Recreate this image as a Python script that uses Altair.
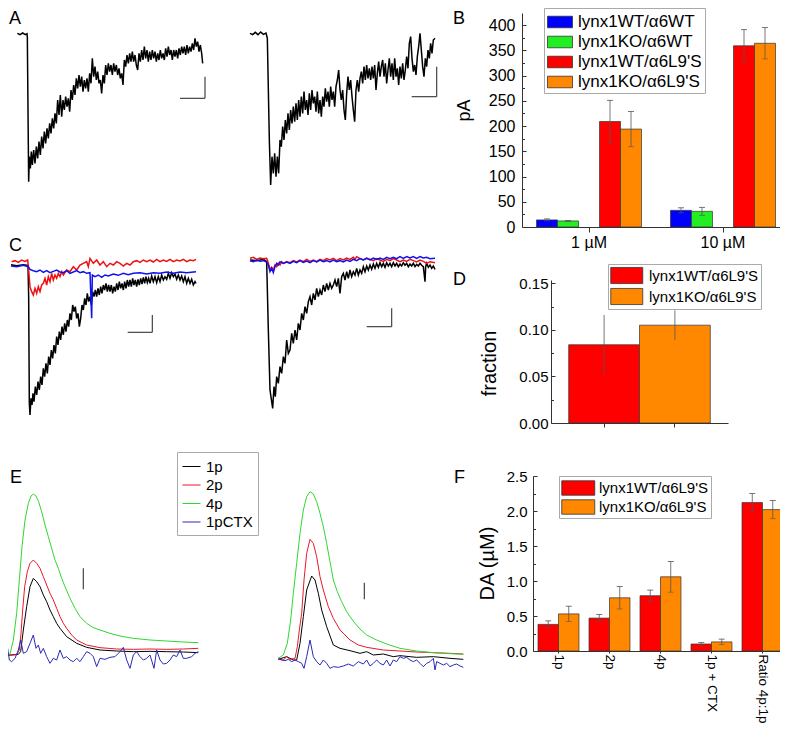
import altair as alt
import pandas as pd

FONT = "Liberation Sans"
W, H = 772, 716
M = 8  # page margin

# ---------------- Panel A : whole-cell currents (time ms, current pA) ----------------
A_left = [(520,-100),(600,-104),(680,-99),(760,-104),(810,-101),(820,-112),(860,-545),(880,-470),(910,-505),(940,-455),(970,-495),(1010,-450),(1050,-490),(1090,-440),(1130,-475),(1170,-425),(1210,-465),(1250,-410),(1290,-445),(1330,-395),(1370,-430),(1410,-385),(1450,-415),(1490,-370),(1530,-400),(1570,-355),(1610,-385),(1650,-340),(1690,-370),(1730,-300),(1770,-345),(1810,-285),(1850,-350),(1890,-300),(1930,-330),(1970,-290),(2010,-320),(2050,-295),(2090,-335),(2130,-270),(2170,-300),(2210,-255),(2250,-285),(2290,-235),(2330,-265),(2370,-225),(2410,-260),(2450,-230),(2490,-275),(2530,-240),(2570,-265),(2610,-235),(2650,-275),(2690,-220),(2730,-250),(2770,-175),(2810,-230),(2850,-200),(2890,-240),(2930,-215),(2970,-250),(3010,-240),(3050,-280),(3090,-225),(3130,-250),(3170,-195),(3210,-225),(3250,-190),(3290,-215),(3330,-195),(3370,-225),(3410,-190),(3450,-215),(3490,-195),(3530,-225),(3570,-205),(3610,-235),(3650,-220),(3690,-255),(3730,-180),(3770,-200),(3810,-165),(3850,-190),(3890,-160),(3930,-185),(3970,-155),(4010,-185),(4050,-165),(4090,-195),(4130,-210),(4170,-160),(4210,-185),(4250,-150),(4290,-180),(4330,-140),(4370,-175),(4410,-150),(4450,-185),(4490,-155),(4530,-180),(4570,-150),(4610,-175),(4650,-155),(4690,-185),(4730,-160),(4770,-180),(4810,-150),(4850,-175),(4890,-160),(4930,-180),(4970,-145),(5010,-170),(5050,-140),(5090,-165),(5130,-150),(5170,-180),(5210,-150),(5250,-170),(5290,-150),(5330,-175),(5370,-145),(5410,-165),(5450,-140),(5490,-160),(5530,-140),(5570,-165),(5610,-135),(5650,-160),(5690,-140),(5730,-155),(5770,-130),(5810,-150),(5850,-115),(5890,-140),(5930,-125),(5970,-155),(6010,-135),(6050,-160),(6080,-190)]
A_right = [(600,-100),(680,-104),(760,-97),(840,-104),(920,-96),(1000,-103),(1080,-99),(1120,-115),(1180,-420),(1220,-555),(1260,-470),(1300,-520),(1340,-460),(1380,-530),(1420,-470),(1460,-520),(1500,-420),(1540,-440),(1580,-380),(1620,-420),(1660,-360),(1700,-400),(1740,-340),(1780,-390),(1820,-330),(1860,-370),(1900,-320),(1940,-365),(1980,-310),(2020,-360),(2060,-300),(2100,-350),(2140,-290),(2180,-340),(2220,-275),(2260,-330),(2300,-300),(2340,-345),(2380,-280),(2420,-330),(2460,-270),(2500,-310),(2540,-290),(2580,-335),(2620,-275),(2660,-340),(2700,-300),(2740,-350),(2780,-290),(2820,-320),(2860,-265),(2900,-305),(2940,-275),(2980,-320),(3020,-260),(3060,-300),(3100,-275),(3140,-320),(3180,-260),(3220,-240),(3260,-210),(3300,-270),(3340,-300),(3380,-270),(3420,-330),(3460,-360),(3500,-280),(3540,-230),(3580,-270),(3620,-240),(3660,-290),(3700,-330),(3740,-365),(3780,-270),(3820,-240),(3860,-275),(3900,-235),(3940,-215),(3980,-250),(4020,-200),(4060,-240),(4100,-195),(4140,-235),(4180,-205),(4220,-240),(4260,-200),(4300,-235),(4340,-195),(4380,-270),(4420,-220),(4460,-185),(4500,-230),(4540,-200),(4580,-180),(4620,-230),(4660,-190),(4700,-250),(4740,-210),(4780,-175),(4820,-230),(4860,-190),(4900,-240),(4940,-175),(4980,-230),(5020,-205),(5060,-255),(5100,-200),(5140,-235),(5180,-190),(5220,-240),(5260,-210),(5300,-170),(5340,-205),(5380,-130),(5420,-110),(5460,-175),(5500,-215),(5540,-195),(5580,-225),(5620,-170),(5660,-140),(5700,-100),(5740,-150),(5780,-200),(5820,-230),(5860,-175),(5900,-200),(5940,-150),(5980,-175),(6020,-130),(6060,-160),(6100,-120),(6150,-115)]
A_left_bar_t, A_left_bar_v = [5400, 6150], [-295, -230]
A_right_bar_t, A_right_bar_v = [5450, 6200], [-290, -200]

# ---------------- Panel C ----------------
C_left_black = [(330,-104),(500,-107),(700,-104),(840,-106),(860,-200),(880,-520),(900,-555),(930,-505),(960,-525),(990,-490),(1020,-515),(1060,-470),(1100,-495),(1140,-455),(1180,-480),(1220,-440),(1260,-465),(1300,-415),(1340,-440),(1380,-400),(1420,-430),(1460,-380),(1500,-405),(1540,-360),(1580,-385),(1620,-345),(1660,-370),(1700,-320),(1740,-345),(1780,-305),(1820,-330),(1860,-290),(1900,-315),(1940,-280),(1980,-305),(2020,-270),(2060,-290),(2100,-250),(2140,-270),(2180,-225),(2220,-245),(2260,-230),(2300,-265),(2340,-250),(2380,-290),(2420,-265),(2460,-225),(2500,-240),(2540,-205),(2580,-225),(2620,-190),(2660,-215),(2700,-200),(2740,-225),(2780,-185),(2820,-200),(2860,-180),(2900,-200),(2940,-175),(2980,-195),(3020,-170),(3060,-190),(3100,-165),(3140,-180),(3180,-160),(3220,-185),(3260,-165),(3300,-185),(3340,-165),(3380,-190),(3420,-170),(3460,-185),(3500,-160),(3540,-180),(3580,-155),(3620,-175),(3660,-160),(3700,-180),(3740,-155),(3780,-175),(3820,-150),(3860,-170),(3900,-150),(3940,-170),(3980,-145),(4020,-165),(4060,-150),(4100,-170),(4140,-148),(4180,-165),(4220,-145),(4260,-162),(4300,-142),(4340,-160),(4380,-140),(4420,-158),(4460,-145),(4500,-160),(4550,-138),(4600,-155),(4650,-140),(4700,-158),(4750,-140),(4800,-155),(4850,-135),(4900,-150),(4950,-140),(5000,-148),(5050,-130),(5100,-145),(5150,-128),(5200,-140),(5250,-132),(5300,-148),(5350,-135),(5400,-150),(5450,-138),(5500,-155),(5550,-140),(5600,-160),(5650,-145),(5700,-160),(5750,-148),(5800,-165),(5850,-155),(5880,-160)]
C_left_red = [(350,-95),(450,-92),(550,-97),(650,-90),(750,-94),(830,-90),(860,-120),(900,-170),(950,-185),(1000,-195),(1050,-175),(1100,-190),(1150,-170),(1200,-185),(1250,-165),(1300,-160),(1350,-145),(1400,-165),(1450,-140),(1500,-155),(1550,-130),(1600,-150),(1650,-135),(1700,-145),(1750,-130),(1800,-140),(1850,-125),(1900,-135),(2000,-120),(2100,-125),(2200,-110),(2300,-120),(2400,-105),(2500,-100),(2600,-95),(2650,-110),(2700,-85),(2800,-100),(2900,-90),(3000,-105),(3100,-95),(3200,-110),(3300,-100),(3400,-105),(3500,-95),(3600,-100),(3700,-108),(3800,-100),(3900,-105),(4000,-95),(4100,-92),(4200,-97),(4300,-90),(4400,-95),(4500,-90),(4600,-96),(4700,-88),(4800,-95),(4900,-90),(5000,-94),(5100,-88),(5200,-95),(5300,-90),(5400,-93),(5500,-88),(5600,-95),(5700,-90),(5800,-92),(5880,-88)]
C_left_blue = [(330,-108),(500,-110),(700,-106),(850,-110),(900,-118),(1000,-122),(1100,-125),(1200,-120),(1300,-127),(1400,-122),(1500,-128),(1600,-124),(1700,-120),(1800,-126),(1900,-128),(2000,-122),(2100,-130),(2200,-126),(2300,-122),(2400,-128),(2500,-125),(2600,-130),(2700,-128),(2750,-265),(2770,-135),(2850,-140),(2950,-135),(3050,-142),(3150,-135),(3250,-138),(3400,-132),(3550,-136),(3700,-130),(3850,-134),(4000,-130),(4200,-128),(4400,-132),(4600,-128),(4800,-130),(5000,-126),(5200,-130),(5400,-126),(5600,-128),(5880,-125)]
C_right_black = [(7500,-90),(7700,-92),(7900,-88),(8000,-95),(8050,-300),(8100,-480),(8180,-535),(8220,-470),(8260,-500),(8300,-440),(8350,-460),(8400,-410),(8450,-430),(8500,-380),(8550,-400),(8600,-330),(8650,-370),(8700,-360),(8750,-310),(8800,-340),(8850,-300),(8900,-330),(8950,-280),(9000,-300),(9050,-250),(9100,-270),(9150,-230),(9200,-250),(9250,-215),(9300,-200),(9350,-225),(9400,-190),(9450,-210),(9500,-175),(9550,-200),(9600,-180),(9650,-195),(9700,-165),(9750,-185),(9800,-160),(9850,-180),(9900,-160),(9950,-175),(10000,-165),(10050,-150),(10100,-170),(10150,-145),(10200,-190),(10250,-140),(10300,-130),(10350,-150),(10400,-125),(10450,-145),(10500,-120),(10550,-140),(10600,-125),(10650,-135),(10700,-115),(10750,-135),(10800,-120),(10850,-130),(10900,-110),(10950,-125),(11000,-108),(11050,-120),(11100,-105),(11150,-118),(11200,-102),(11250,-115),(11300,-100),(11350,-112),(11400,-98),(11450,-110),(11500,-100),(11550,-112),(11600,-98),(11650,-108),(11700,-100),(11750,-110),(11800,-98),(11850,-108),(11900,-100),(11950,-110),(12000,-102),(12050,-108),(12100,-98),(12150,-106),(12200,-100),(12250,-110),(12300,-102),(12350,-108),(12400,-100),(12450,-110),(12500,-103),(12550,-108),(12600,-100),(12650,-106),(12700,-110),(12750,-155),(12770,-110),(12800,-100),(12850,-112),(12900,-105),(12950,-115),(13000,-108),(13050,-118)]
C_right_red = [(7500,-85),(7600,-82),(7700,-88),(7800,-84),(7900,-86),(8000,-85),(8050,-100),(8100,-118),(8150,-112),(8200,-120),(8250,-105),(8300,-110),(8350,-100),(8400,-105),(8450,-95),(8500,-100),(8600,-95),(8700,-98),(8800,-92),(8900,-96),(9000,-90),(9100,-95),(9200,-88),(9300,-94),(9400,-90),(9500,-95),(9600,-88),(9700,-92),(9800,-86),(9900,-90),(10000,-85),(10100,-92),(10200,-86),(10300,-90),(10400,-84),(10500,-88),(10600,-82),(10650,-88),(10700,-80),(10800,-86),(10900,-90),(11000,-84),(11100,-88),(11200,-92),(11300,-86),(11400,-90),(11500,-94),(11600,-88),(11700,-92),(11800,-86),(11900,-90),(12000,-95),(12100,-90),(12200,-94),(12300,-88),(12400,-92),(12500,-96),(12600,-90),(12700,-94),(12800,-100),(12900,-95),(13050,-98)]
C_right_blue = [(7500,-92),(7600,-95),(7700,-90),(7800,-94),(7900,-92),(8000,-96),(8050,-105),(8100,-125),(8150,-115),(8200,-128),(8250,-110),(8300,-100),(8350,-105),(8400,-95),(8500,-100),(8600,-96),(8700,-100),(8800,-94),(8900,-98),(9000,-92),(9100,-97),(9200,-93),(9300,-98),(9400,-92),(9500,-96),(9600,-90),(9700,-95),(9800,-92),(9900,-96),(10000,-90),(10100,-95),(10200,-92),(10300,-96),(10400,-90),(10500,-94),(10600,-88),(10700,-92),(10800,-86),(10900,-90),(11000,-85),(11100,-90),(11200,-84),(11300,-88),(11400,-84),(11500,-88),(11600,-82),(11700,-86),(11800,-82),(11900,-86),(12000,-80),(12100,-85),(12200,-80),(12300,-84),(12400,-80),(12500,-85),(12600,-80),(12700,-84),(12800,-82),(12900,-86),(13050,-85)]
C_left_bar_t, C_left_bar_v = [3830, 4570], [-307, -255]
C_right_bar_t, C_right_bar_v = [11000, 11750], [-290, -235]

# ---------------- Panel E : dopamine signals (time ms, DA a.u.) ----------------
E_series = ["1p", "2p", "4p", "1pCTX"]
E_colors = ["#000000", "#e8182c", "#2fd82f", "#2a2ab8"]
E_left = {
    "1p": [(50,75),(300,75),(550,77),(620,85),(700,150),(800,220),(900,280),(1000,305),(1100,295),(1200,280),(1300,255),(1400,235),(1500,210),(1600,190),(1700,170),(1800,155),(2000,130),(2300,110),(2600,98),(3000,90),(3500,87),(4000,85),(4500,86),(5000,85),(5500,84),(5950,82)],
    "2p": [(50,73),(300,74),(500,76),(580,90),(630,140),(680,210),(740,280),(820,325),(900,350),(1000,360),(1100,350),(1200,335),(1300,310),(1400,285),(1500,260),(1600,240),(1700,215),(1800,190),(1900,170),(2000,155),(2150,135),(2300,120),(2600,105),(3000,97),(3500,93),(4000,92),(4500,93),(5000,92),(5500,93),(5950,95)],
    "4p": [(50,75),(200,74),(300,78),(400,120),(500,200),(580,300),(660,400),(750,480),(850,530),(930,552),(1000,558),(1080,552),(1160,535),(1250,505),(1350,465),(1450,430),(1550,395),(1650,360),(1750,335),(1850,305),(1950,280),(2100,245),(2250,215),(2400,190),(2600,170),(2800,157),(3000,150),(3300,140),(3600,132),(4000,125),(4500,120),(5000,117),(5500,114),(5950,112)],
    "1pCTX": [(50,70),(120,60),(200,115),(280,60),(350,55),(450,65),(550,90),(620,120),(700,80),(800,85),(900,110),(1000,135),(1080,95),(1150,105),(1220,80),(1300,95),(1400,70),(1500,50),(1600,65),(1700,60),(1800,90),(1900,65),(2000,70),(2100,60),(2200,55),(2300,65),(2400,55),(2500,70),(2600,85),(2700,80),(2800,70),(2900,40),(3000,65),(3150,62),(3300,68),(3450,70),(3600,85),(3700,98),(3800,60),(3900,35),(4000,75),(4100,85),(4200,70),(4300,60),(4400,65),(4500,75),(4620,35),(4700,90),(4800,60),(4900,48),(5000,50),(5100,60),(5200,75),(5300,70),(5400,90),(5500,65),(5600,65),(5750,70),(5850,80),(5950,85)],
}
E_right = {
    "1p": [(8350,62),(8600,70),(8800,60),(8900,60),(9000,110),(9100,190),(9200,270),(9350,312),(9450,300),(9550,260),(9650,210),(9800,160),(10000,105),(10200,95),(10500,88),(10800,80),(11000,85),(11200,75),(11500,78),(11800,70),(12000,73),(12500,68),(13000,70),(13500,65),(13900,62)],
    "2p": [(8350,62),(8500,60),(8600,70),(8700,62),(8850,65),(8920,100),(8980,150),(9050,200),(9120,300),(9200,380),(9300,422),(9400,410),(9500,370),(9600,310),(9700,270),(9850,220),(10000,185),(10200,150),(10500,120),(10750,105),(11000,98),(11500,90),(12000,87),(12500,84),(13000,82),(13500,80),(13900,78)],
    "4p": [(8350,65),(8500,75),(8620,110),(8720,180),(8800,260),(8900,350),(9000,440),(9100,510),(9200,550),(9300,565),(9400,558),(9500,535),(9600,500),(9700,460),(9800,410),(9900,355),(10000,300),(10120,265),(10250,235),(10400,205),(10500,190),(10650,170),(10800,153),(11000,135),(11300,120),(11600,108),(12000,95),(12500,87),(13000,82),(13500,79),(13900,77)],
    "1pCTX": [(8350,65),(8450,60),(8550,58),(8650,62),(8750,55),(8850,60),(8950,55),(9050,50),(9120,35),(9200,70),(9300,120),(9400,70),(9500,55),(9600,45),(9700,60),(9800,50),(9900,35),(10000,40),(10150,38),(10300,42),(10450,48),(10600,42),(10750,55),(10900,48),(11000,60),(11100,42),(11200,50),(11300,60),(11400,50),(11500,45),(11600,60),(11700,42),(11800,60),(11900,55),(12000,70),(12100,65),(12200,68),(12300,60),(12400,55),(12500,60),(12600,50),(12700,40),(12800,50),(12900,55),(13000,65),(13050,30),(13100,55),(13200,50),(13300,45),(13400,50),(13500,40),(13600,45),(13700,48),(13800,42),(13900,38)],
}
E_left_bar_t, E_left_bar_v = 2500, [272, 335]
E_right_bar_t, E_right_bar_v = 10930, [242, 292]

# ---------------- Panel B ----------------
B_conc = ["1 µM", "10 µM"]
B_groups = ["lynx1WT/α6WT", "lynx1KO/α6WT", "lynx1WT/α6L9'S", "lynx1KO/α6L9'S"]
B_slots = ["lynx1WT/α6WT", "lynx1KO/α6WT", "gap", "lynx1WT/α6L9'S", "lynx1KO/α6L9'S"]
B_colors = ["#0000ff", "#22ee22", "#ff0000", "#ff8800"]
B_mean = {"lynx1WT/α6WT": [14, 33], "lynx1KO/α6WT": [12, 31],
          "lynx1WT/α6L9'S": [209, 359], "lynx1KO/α6L9'S": [194, 364]}
B_err = {"lynx1WT/α6WT": [2, 5], "lynx1KO/α6WT": [1, 8],
         "lynx1WT/α6L9'S": [42, 32], "lynx1KO/α6L9'S": [35, 31]}
B_ticks = [0, 50, 100, 150, 200, 250, 300, 350, 400]
B_minor = [25, 75, 125, 175, 225, 275, 325, 375]

# ---------------- Panel D ----------------
D_groups = ["lynx1WT/α6L9'S", "lynx1KO/α6L9'S"]
D_colors = ["#ff0000", "#ff8800"]
D_mean = [0.084, 0.105]
D_err = [0.032, 0.016]
D_ticks = [0.0, 0.05, 0.10, 0.15]
D_minor = [0.025, 0.075, 0.125]

# ---------------- Panel F ----------------
F_cats = ["1p", "2p", "4p", "1p + CTX", "Ratio 4p:1p"]
F_groups = ["lynx1WT/α6L9'S", "lynx1KO/α6L9'S"]
F_colors = ["#ff0000", "#ff8800"]
F_wt = [0.38, 0.47, 0.79, 0.10, 2.12]
F_wt_err = [0.05, 0.05, 0.08, 0.02, 0.13]
F_ko = [0.53, 0.76, 1.06, 0.13, 2.02]
F_ko_err = [0.11, 0.16, 0.22, 0.04, 0.13]
F_ticks = [0.0, 0.5, 1.0, 1.5, 2.0, 2.5]
F_minor = [0.25, 0.75, 1.25, 1.75, 2.25]


# ================= helpers (layout only) =================
def frame_x(ox, dom):
    return alt.Scale(domain=dom, range=[ox + dom[0] / 30 - M, ox + dom[1] / 30 - M], nice=False, zero=False)


def frame_y(oy, dom, c=0):
    return alt.Scale(domain=dom, range=[oy + (c - dom[0]) / 3 - M, oy + (c - dom[1]) / 3 - M], nice=False, zero=False)


def pairs_df(pairs, rec, series=""):
    df = pd.DataFrame(pairs, columns=["t", "v"])
    df["rec"] = rec
    df["series"] = series
    return df


def lines(df, xs, ys, color, width=1.0):
    return alt.Chart(df).mark_line(color=color, strokeWidth=width).encode(
        x=alt.X("t:Q", scale=xs, axis=None),
        y=alt.Y("v:Q", scale=ys, axis=None),
        detail="rec:N",
    )


def scalebar(df, xs, ys):
    return alt.Chart(df).mark_rule(color="#444444", strokeWidth=1.2).encode(
        x=alt.X("x:Q", scale=xs, axis=None), x2="x2:Q",
        y=alt.Y("y:Q", scale=ys, axis=None), y2="y2:Q",
    )


def lbar(ts, vs):
    return pd.DataFrame({"x": [ts[1], ts[0]], "x2": [ts[1], ts[1]],
                         "y": [vs[0], vs[0]], "y2": [vs[1], vs[0]]})


def letter(ch, x, y):
    return alt.Chart(pd.DataFrame({"label": [ch]})).mark_text(
        font=FONT, fontSize=18, align="left", baseline="top", color="black"
    ).encode(text="label:N", x=alt.value(x), y=alt.value(y))


layers = []

# ---- A ----
xa1, ya = frame_x(0, [500, 6200]), frame_y(0, [-570, -90])
xa2, ya2 = frame_x(230, [580, 6250]), frame_y(0, [-570, -90])
layers += [
    lines(pairs_df(A_left, "L"), xa1, ya, "black", 1.5),
    scalebar(lbar(A_left_bar_t, A_left_bar_v), xa1, ya),
    lines(pairs_df(A_right, "R"), xa2, ya2, "black", 1.5),
    scalebar(lbar(A_right_bar_t, A_right_bar_v), xa2, ya2),
]

# ---- C ----
xc, yc = frame_x(0, [300, 13100]), frame_y(230, [-570, -70])
layers += [
    lines(pd.concat([pairs_df(C_left_black, "L"), pairs_df(C_right_black, "R")]), xc, yc, "black", 1.5),
    lines(pd.concat([pairs_df(C_left_red, "L"), pairs_df(C_right_red, "R")]), xc, yc, "#ee1111", 1.5),
    lines(pd.concat([pairs_df(C_left_blue, "L"), pairs_df(C_right_blue, "R")]), xc, yc, "#1111ee", 1.5),
    scalebar(pd.concat([lbar(C_left_bar_t, C_left_bar_v), lbar(C_right_bar_t, C_right_bar_v)]), xc, yc),
]

# ---- E ----
xe, ye = frame_x(0, [0, 14000]), frame_y(480, [0, 600], c=600)
dfE = pd.concat([pairs_df(E_left[s], "L", s) for s in E_series] + [pairs_df(E_right[s], "R", s) for s in E_series])
layers.append(
    alt.Chart(dfE).mark_line(strokeWidth=1.0).encode(
        x=alt.X("t:Q", scale=xe, axis=None),
        y=alt.Y("v:Q", scale=ye, axis=None),
        detail="rec:N",
        color=alt.Color("series:N", scale=alt.Scale(domain=E_series, range=E_colors),
                        legend=alt.Legend(orient="none", legendX=169, legendY=444, title=None,
                                          symbolType="stroke", symbolSize=324, symbolStrokeWidth=1,
                                          labelFontSize=15, labelOffset=5, rowPadding=0.5,
                                          padding=5, strokeColor="#aaaaaa", fillColor="white",
                                          cornerRadius=0)),
    )
)
dfEbar = pd.DataFrame({"x": [E_left_bar_t, E_right_bar_t], "x2": [E_left_bar_t, E_right_bar_t],
                       "y": [E_left_bar_v[0], E_right_bar_v[0]], "y2": [E_left_bar_v[1], E_right_bar_v[1]]})
layers.append(scalebar(dfEbar, xe, ye))


# ---- generic grouped-bar panel ----
def bar_panel(df, cat_field, cats, grp_field, slots, color_field, groups, colors, xs_range, po_x, po_off,
              y_dom, y_range, axis_x_px, y_ticks, y_minor, y_fmt, title, title_size, title_x, title_y,
              label_pad, label_size, x_labels, x_label_angle, x_label_size, x_tick, x_label_pad, cap, legend):
    xs = alt.Scale(domain=cats, range=xs_range, paddingInner=0, paddingOuter=po_x)
    xo = alt.Scale(domain=slots, paddingInner=0, paddingOuter=po_off)
    ys = alt.Scale(domain=y_dom, range=y_range, nice=False, zero=False)
    xaxis = alt.Axis(orient="bottom", offset=y_range[0] - H, title=None, labels=x_labels,
                     labelAngle=x_label_angle, labelFontSize=x_label_size, tickSize=x_tick,
                     labelPadding=x_label_pad)
    yaxis = alt.Axis(orient="left", offset=-axis_x_px, values=y_ticks, ticks=False, format=y_fmt,
                     labelPadding=label_pad, labelFontSize=label_size, title=title,
                     titleFontSize=title_size, titleX=title_x, titleY=title_y)
    out = []
    out.append(alt.Chart(df).mark_bar(stroke="#333333", strokeWidth=0.7).encode(
        x=alt.X(f"{cat_field}:N", scale=xs, axis=xaxis),
        xOffset=alt.XOffset(f"{grp_field}:N", scale=xo),
        y=alt.Y("mean:Q", scale=ys, axis=yaxis),
        color=alt.Color(f"{color_field}:N", scale=alt.Scale(domain=groups, range=colors), legend=legend),
    ))
    out.append(alt.Chart(df).mark_rule(color="#555555", strokeWidth=0.8).encode(
        x=alt.X(f"{cat_field}:N", scale=xs, axis=None),
        xOffset=alt.XOffset(f"{grp_field}:N", scale=xo),
        y=alt.Y("lo:Q", scale=ys, axis=alt.Axis(orient="right", offset=axis_x_px - W, values=y_ticks,
                                                 labels=False, domain=False, tickSize=4, title=None)),
        y2="hi:Q",
    ))
    out.append(alt.Chart(df).mark_tick(orient="horizontal", size=max(cap, 0.1), thickness=0.8,
                                       color="#555555", opacity=1 if cap > 0 else 0).encode(
        x=alt.X(f"{cat_field}:N", scale=xs, axis=None),
        xOffset=alt.XOffset(f"{grp_field}:N", scale=xo),
        y=alt.Y("hi:Q", scale=ys, axis=alt.Axis(orient="right", offset=axis_x_px - W, values=y_minor,
                                                 labels=False, domain=False, tickSize=2.5, title=None)),
    ))
    if cap > 0:
        out.append(alt.Chart(df).mark_tick(orient="horizontal", size=cap, thickness=0.8, color="#555555").encode(
            x=alt.X(f"{cat_field}:N", scale=xs, axis=None),
            xOffset=alt.XOffset(f"{grp_field}:N", scale=xo),
            y=alt.Y("lo:Q", scale=ys, axis=None),
        ))
    return out


def legend_box(x, y, path, size, font, label_offset, pad, row_pad):
    return alt.Legend(orient="none", legendX=x, legendY=y, title=None, symbolType=path, symbolSize=size,
                      symbolStrokeColor="#333333", symbolStrokeWidth=0.8, labelFontSize=font,
                      labelOffset=label_offset, padding=pad, rowPadding=row_pad,
                      strokeColor="#aaaaaa", fillColor="white", cornerRadius=0)


# ---- B ----
rowsB = []
for g in B_groups:
    for i, c in enumerate(B_conc):
        m, e = B_mean[g][i], B_err[g][i]
        rowsB.append({"conc": c, "group": g, "mean": m, "lo": m - e, "hi": m + e})
dfB = pd.DataFrame(rowsB)
layers += bar_panel(dfB, "conc", B_conc, "group", B_slots, "group", B_groups, B_colors, [514, 782], 0, 0.69,
                    [0, 424], [219, 5], 514, B_ticks, B_minor, "d", "pA", 18, -49, 102, 7, 16,
                    True, 0, 16, 5, 2, 6,
                    legend_box(536, 0, "M-1,-0.55H1.38V0.55H-1Z", 441, 17, 9, 3, 1))

# ---- D ----
dfD = pd.DataFrame({"group": D_groups, "cat": ["all", "all"], "mean": D_mean,
                    "lo": [m - e for m, e in zip(D_mean, D_err)], "hi": [m + e for m, e in zip(D_mean, D_err)]})
layers += bar_panel(dfD, "group", D_groups, "cat", ["all"], "group", D_groups, D_colors, [543, 720], 0.25, 0,
                    [0, 0.1535], [415, 272], 543, D_ticks, D_minor, ".2f", "fraction", 20, -52, 355, 3, 15,
                    False, 0, 15, 4, 2, 0,
                    legend_box(600, 256, "M-1,-0.92H2.66V0.92H-1Z", 306, 15, 20, 2, 0))

# ---- F ----
rowsF = []
for i, c in enumerate(F_cats):
    rowsF.append({"cat": c, "group": F_groups[0], "mean": F_wt[i], "lo": F_wt[i] - F_wt_err[i], "hi": F_wt[i] + F_wt_err[i]})
    rowsF.append({"cat": c, "group": F_groups[1], "mean": F_ko[i], "lo": F_ko[i] - F_ko_err[i], "hi": F_ko[i] + F_ko_err[i]})
dfF = pd.DataFrame(rowsF)
layers += bar_panel(dfF, "cat", F_cats, "group", F_groups, "group", F_groups, F_colors, [525, 780], 0, 0.244,
                    [0, 2.5], [643, 468], 525, F_ticks, F_minor, ".1f", "DA (µM)", 20, -36, 555, 6, 15,
                    True, 90, 13.5, 2, 1, 6,
                    legend_box(551, 468, "M-1,-0.78H2.57V0.78H-1Z", 342, 15, 18, 2, 0))

# ---- panel letters ----
layers += [letter("A", 1, 2), letter("B", 445, 2), letter("C", 1, 229),
           letter("D", 445, 263), letter("E", 2, 461), letter("F", 446, 461)]

chart = alt.layer(*layers).resolve_scale(
    x="independent", y="independent", color="independent", xOffset="independent"
).properties(
    width=W, height=H, padding=0, autosize=alt.AutoSizeParams(type="none"), background="white"
).configure(font=FONT).configure_view(strokeWidth=0).configure_axis(
    labelFont=FONT, titleFont=FONT, titleFontWeight="normal", labelColor="black", titleColor="black",
    domainColor="#333333", tickColor="#333333", grid=False
).configure_legend(labelFont=FONT, labelColor="black")

chart.save("out.html", embed_options={"renderer": "svg", "actions": False})
